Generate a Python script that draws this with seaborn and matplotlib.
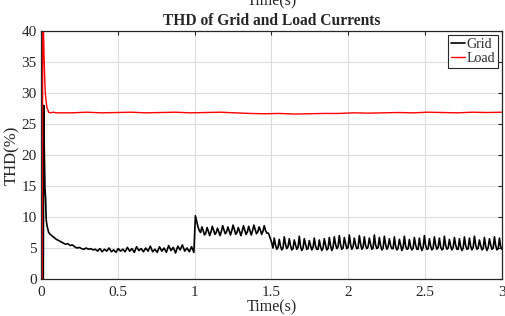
"""
THD of grid and load currents
"""

import numpy as np
import pandas as pd
import matplotlib
matplotlib.use("Agg")
import matplotlib.pyplot as plt
import seaborn as sns

# grid current THD (%)
grid_start_t = [0, 0.015, 0.018, 0.022, 0.026, 0.03, 0.034, 0.04, 0.05, 0.06, 0.08, 0.1]
grid_start_v = [0, 0, 28, 20, 14.5, 13, 9.5, 8.5, 7.5, 7.2, 6.8, 6.4]

grid_settle_v = [6.2, 6.0, 5.8, 5.6, 5.7, 5.4, 5.5, 5.2, 5.0, 5.1, 4.9, 4.8, 5.0, 4.8, 4.9, 4.7, 4.8,
                 4.5, 4.9, 4.4, 4.8, 4.5, 5.0, 4.4, 4.7, 4.3, 4.9, 4.5, 4.8, 4.4, 5.1, 4.5, 4.9,
                 4.3, 5.2, 4.6, 4.9, 4.4, 5.0, 4.5, 5.3, 4.4, 4.8, 4.3, 5.2, 4.5, 5.0, 4.3, 5.4,
                 4.6, 5.1, 4.2, 5.3, 4.7, 5.5, 4.5, 5.0, 4.4, 5.2, 4.3]

grid_step_v = [10.2, 9.3, 8.4, 7.8,
               7.5, 8.4, 7.8, 7.1, 7.4, 8.3, 7.7, 7.0, 7.6, 8.5, 7.9, 7.2,
               7.5, 8.2, 7.6, 7.0, 7.7, 8.6, 7.9, 7.3, 7.6, 8.4, 7.8, 7.1,
               7.8, 8.7, 8.0, 7.2, 7.5, 8.3, 7.7, 7.0, 7.7, 8.6, 7.9, 7.2,
               7.6, 8.5, 7.8, 7.1, 7.8, 8.7, 8.0, 7.3, 7.6, 8.4, 7.9, 7.2,
               7.7, 8.6, 7.8, 7.4]

grid_drop_t = [1.48, 1.5]
grid_drop_v = [7.4, 6.0]

grid_ripple_v = [5.0, 6.6, 5.5, 4.8, 5.1, 6.4, 5.3, 4.7, 5.0, 6.8, 5.6, 4.9, 5.2, 6.5, 5.4, 4.7,
                 4.9, 6.3, 5.5, 4.8, 5.1, 6.9, 5.3, 4.6, 5.0, 6.5, 5.6, 4.8, 4.9, 6.2, 5.4, 4.7,
                 5.1, 6.6, 5.3, 4.8, 4.8, 6.3, 5.2, 4.6, 5.0, 6.5, 5.5, 4.7, 4.9, 6.7, 5.4, 4.6,
                 5.1, 6.8, 5.6, 4.9, 5.2, 7.0, 5.5, 4.8, 5.0, 6.7, 5.7, 4.9, 5.1, 7.1, 5.6, 4.8,
                 5.2, 6.6, 5.5, 4.9, 5.0, 7.0, 5.7, 4.8, 5.1, 6.8, 5.4, 4.9, 5.2, 6.6, 5.6, 4.8,
                 5.0, 7.1, 5.5, 4.9, 5.1, 6.7, 5.4, 4.7, 5.0, 6.9, 5.6, 4.8, 5.2, 6.5, 5.4, 4.9,
                 4.9, 6.8, 5.3, 4.7, 5.0, 6.4, 5.5, 4.6, 5.1, 6.9, 5.3, 4.8, 4.9, 6.4, 5.2, 4.7,
                 5.0, 6.7, 5.5, 4.8, 4.8, 6.6, 5.3, 4.6, 5.1, 7.0, 5.4, 4.8, 4.9, 6.5, 5.3, 4.7,
                 5.0, 6.8, 5.5, 4.8, 5.1, 6.6, 5.2, 4.7, 4.9, 6.9, 5.4, 4.8, 5.0, 6.4, 5.3, 4.7,
                 5.1, 6.7, 5.5, 4.8, 4.8, 6.5, 5.2, 4.6, 5.0, 6.8, 5.4, 4.8, 4.9, 6.6, 5.3, 4.7,
                 5.1, 6.9, 5.5, 4.8, 5.0, 6.3, 5.4, 4.7, 4.9, 6.7, 5.3, 4.6, 5.1, 6.5, 5.5, 4.8,
                 5.0, 6.8, 5.4, 4.7, 4.9, 6.6, 5.2, 4.8]

# load current THD (%)
load_start_t = [0, 0.008, 0.012, 0.02, 0.024, 0.028, 0.032, 0.036, 0.04, 0.045, 0.05, 0.06, 0.08, 0.1]
load_start_v = [0, 0, 45, 36, 32.5, 30, 29, 28.2, 27.5, 27.3, 26.9, 26.8, 26.9, 26.8]

load_flat_v = [26.8, 26.9, 26.8, 26.85, 26.9, 26.8, 26.85, 26.9, 26.8, 26.85, 26.9, 26.8,
               26.7, 26.65, 26.7, 26.6, 26.65, 26.7, 26.7, 26.8, 26.75, 26.8, 26.85, 26.8,
               26.9, 26.85, 26.8, 26.9, 26.85, 26.9]

x_ticks = [0, 0.5, 1, 1.5, 2, 2.5, 3]
x_tick_labels = ["0", "0.5", "1", "1.5", "2", "2.5", "3"]
y_ticks = [0, 5, 10, 15, 20, 25, 30, 35, 40]


def build_frames():
    grid_t = np.concatenate([
        grid_start_t,
        np.linspace(0.115, 0.995, len(grid_settle_v)),
        np.linspace(1.005, 1.47, len(grid_step_v)),
        grid_drop_t,
        np.linspace(1.51, 3.0, len(grid_ripple_v)),
    ])
    grid_v = np.concatenate([grid_start_v, grid_settle_v, grid_step_v, grid_drop_v, grid_ripple_v])
    load_t = np.concatenate([load_start_t, np.linspace(0.2, 3.0, len(load_flat_v))])
    load_v = np.concatenate([load_start_v, load_flat_v])
    grid = pd.DataFrame({"t": grid_t, "thd": grid_v})
    load = pd.DataFrame({"t": load_t, "thd": load_v})
    return grid, load


def main():
    sns.set_style("whitegrid")
    plt.rcParams["font.family"] = ["Liberation Serif", "DejaVu Serif"]

    grid, load = build_frames()

    fig = plt.figure(figsize=(5.06, 3.16), dpi=100)
    ax = fig.add_axes([0.081, 0.117, 0.911, 0.785])

    sns.lineplot(data=grid, x="t", y="thd", color="black", lw=1.2, sort=False,
                 estimator=None, ax=ax, label="Grid")
    sns.lineplot(data=load, x="t", y="thd", color="red", lw=1.0, sort=False,
                 estimator=None, ax=ax, label="Load")

    ax.set_xlim(0, 3)
    ax.set_ylim(0, 40)
    ax.set_xticks(x_ticks)
    ax.set_xticklabels(x_tick_labels)
    ax.set_yticks(y_ticks)
    ax.tick_params(direction="in", top=True, right=True, length=3, width=0.8,
                   labelsize=11, colors="#262626")
    ax.tick_params(axis="x", pad=5)
    ax.tick_params(axis="y", pad=3)
    ax.grid(True, color="#dcdcdc", lw=0.8)
    for spine in ax.spines.values():
        spine.set_edgecolor("#262626")
        spine.set_linewidth(0.9)

    ax.set_xlabel("Time(s)", fontsize=11.5, labelpad=0)
    ax.set_ylabel("THD(%)", fontsize=12, labelpad=1)
    ax.set_title("THD of Grid and Load Currents", fontsize=11.2, fontweight="bold", pad=4)
    fig.text(0.537, 0.984, "Time(s)", fontsize=11.5, ha="center", va="baseline")

    leg = ax.legend(loc="upper right", fontsize=10, handlelength=1.0, handletextpad=0.1,
                    borderpad=0.2, labelspacing=0.1, borderaxespad=0.3, fancybox=False,
                    framealpha=1)
    leg.get_frame().set_edgecolor("#262626")
    leg.get_frame().set_linewidth(0.8)

    fig.savefig("out.png", dpi=100)


if __name__ == "__main__":
    main()
